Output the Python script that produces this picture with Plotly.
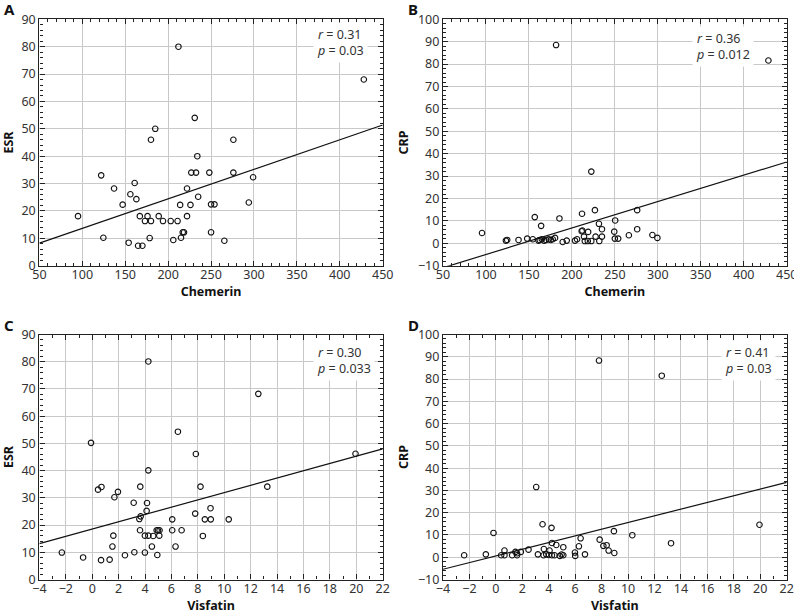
import plotly.graph_objects as go
import numpy as np

# ---------------- data ----------------
# Panel A: Chemerin vs ESR
a_x = [212, 428, 231, 185, 180, 276, 234, 122, 227, 232.5, 248, 276, 299, 161, 137, 222, 156, 163,
       235, 147, 214, 226, 250, 254, 294, 95, 167, 176, 189, 222, 173, 180, 194, 203, 211, 217, 218.5,
       250, 124.5, 178.5, 215, 154, 206, 265.5, 165, 170]
a_y = [80, 68, 54, 50, 46, 46, 40, 33, 34, 34, 34, 34, 32.3, 30.2, 28.2, 28.2, 26.1, 24.3,
       25.2, 22.3, 22.2, 22.2, 22.4, 22.4, 23.1, 18.1, 18.1, 18.1, 18.1, 18.1, 16.3, 16.3, 16.3, 16.3, 16.3, 12.2, 12.2,
       12.2, 10.2, 10.1, 10.2, 8.4, 9.4, 9.1, 7.3, 7.3]

# Panel B: Chemerin vs CRP
b_x = [181.6, 428.7, 222.6, 95.4, 123.2, 124.7, 137.9, 148, 154.5, 156.8, 161.1, 162.6, 165, 167.7, 170,
       173.1, 175.4, 177.7, 180.4, 164.2, 185.5, 189.3, 194, 203.6, 206, 211.4, 212.2, 211.8, 214.1, 215,
       218.5, 222.6, 218.9, 226.8, 227.6, 231.5, 231.9, 235, 235, 249.3, 250.4, 250, 253.9, 266.3, 276, 276,
       293.7, 299.5]
b_y = [88.5, 81.6, 32.0, 4.6, 1.2, 1.5, 1.5, 2.1, 1.8, 11.7, 1.2, 1.5, 1.8, 1.2, 1.5,
       1.8, 1.5, 1.8, 2.4, 7.8, 11.1, 0.6, 1.2, 1.2, 1.8, 5.4, 5.7, 13.2, 3.0, 1.0,
       1.0, 1.0, 5.1, 14.8, 3.0, 8.7, 1.0, 6.3, 3.0, 5.2, 10.2, 2.1, 2.1, 3.6, 14.8, 6.3,
       3.7, 2.4]

# Panel C: Visfatin vs ESR
c_x = [4.25, 12.58, 6.49, -0.09, 7.85, 19.94, 4.25, 0.44, 0.70, 3.64, 8.2, 13.26, 1.95, 1.68, 3.14, 4.15,
       4.12, 3.67, 3.57, 7.8, 8.96, 6.06, 8.53, 8.98, 10.34, 3.62, 4.88, 4.98, 5.1, 6.06, 6.77, 1.6,
       3.99, 4.25, 4.62, 5.08, 8.38, 1.53, 4.52, 6.31, -2.3, 3.19, 3.99, -0.69, 2.48, 4.93, 0.67, 1.32]
c_y = [80.1, 68.2, 54.3, 50.2, 46.1, 46.2, 40.1, 33.0, 34.0, 34.1, 34.1, 34.1, 32.2, 30.2, 28.2, 28.1,
       25.2, 23.2, 22.2, 24.2, 26.2, 22.1, 22.1, 22.1, 22.1, 18.1, 18.1, 18.1, 18.1, 18.1, 18.1, 16.1,
       16.1, 16.1, 16.0, 16.1, 16.0, 12.1, 12.1, 12.1, 9.9, 10.0, 9.9, 8.1, 8.9, 9.0, 7.1, 7.3]

# Panel D: Visfatin vs CRP
d_x = [7.8, 12.55, 3.05, 19.94, 3.53, 4.21, -0.18, 8.93, 10.32, 6.41, 7.85, 13.25, 4.24, 4.57, 8.13, 8.38,
       6.28, 5.1, 3.63, 8.53, 4.06, 0.65, 2.47, 1.48, 1.89, 1.6, 1.23, 1.6, 0.4, 0.65, -0.76, -2.4, 3.18,
       3.61, 3.81, 4.01, 4.24, 4.44, 4.84, 4.97, 5.1, 5.98, 6.0, 6.74, 8.96]
d_y = [88.3, 81.5, 31.5, 14.6, 14.8, 13.2, 10.9, 11.7, 9.9, 8.5, 7.9, 6.3, 6.4, 5.5, 5.1, 5.4,
       4.9, 4.5, 3.7, 3.0, 3.0, 3.0, 3.4, 2.4, 2.4, 1.8, 0.9, 0.9, 0.9, 0.9, 1.3, 0.9, 1.3,
       0.9, 1.3, 1.0, 0.9, 0.9, 0.6, 1.2, 0.9, 2.1, 0.6, 1.3, 1.9]

# regression lines (intercept, slope)
line_intercepts = [2.87, -16.8, 18.55, 0.6]
line_slopes = [0.1078, 0.118, 1.337, 1.5]

stats_r = ["0.31", "0.36", "0.30", "0.41"]
stats_p = ["0.03", "0.012", "0.033", "0.03"]
panel_letters = ["A", "B", "C", "D"]
x_titles = ["Chemerin", "Chemerin", "Visfatin", "Visfatin"]
y_titles = ["ESR", "CRP", "ESR", "CRP"]

# ---------------- layout geometry ----------------
W, H = 794, 615
xdoms = [[39.4 / W, 382.7 / W], [443 / W, 786.7 / W]]
ydoms = [[1 - 265.7 / H, 1 - 19.3 / H], [1 - 579.5 / H, 1 - 334.5 / H]]

xranges = [[50, 450], [50, 450], [-4, 22], [-4, 22]]
yranges = [[0, 90], [-10, 100], [0, 90], [-10, 100]]
xdticks = [50, 50, 2, 2]
xminor = [10, 10, 1, 1]
ydticks = [10, 10, 10, 10]
yminor = [2, 2, 2, 2]

panels = [(a_x, a_y), (b_x, b_y), (c_x, c_y), (d_x, d_y)]

fig = go.Figure()
font_family = "Noto Sans, Open Sans, DejaVu Sans, sans-serif"
axis_col = "#222222"
grid_col = "#c9c9c9"

for i, (px, py) in enumerate(panels):
    row, col = divmod(i, 2)
    xa = "x" if i == 0 else f"x{i+1}"
    ya = "y" if i == 0 else f"y{i+1}"
    xkey = "xaxis" if i == 0 else f"xaxis{i+1}"
    ykey = "yaxis" if i == 0 else f"yaxis{i+1}"

    # regression line
    lx = np.array(xranges[i], dtype=float)
    ly = line_intercepts[i] + line_slopes[i] * lx
    fig.add_trace(go.Scatter(x=lx, y=ly, mode="lines", xaxis=xa, yaxis=ya,
                             line=dict(color="#111111", width=1.2),
                             showlegend=False, hoverinfo="skip"))
    fig.add_trace(go.Scatter(x=px, y=py, mode="markers", xaxis=xa, yaxis=ya,
                             marker=dict(symbol="circle-open", size=5.5,
                                         color="#111111", line=dict(width=1.1, color="#111111")),
                             showlegend=False))

    fig.layout[xkey] = dict(
        domain=xdoms[col], anchor=ya, range=xranges[i], tick0=xranges[i][0], dtick=xdticks[i],
        automargin=False, ticklabeloverflow="allow", ticklabelstandoff=-3,
        showgrid=True, gridcolor=grid_col, gridwidth=1.3, zeroline=False,
        showline=True, linecolor=axis_col, linewidth=1.3, mirror="allticks",
        ticks="inside", ticklen=5, tickcolor=axis_col, tickwidth=1,
        minor=dict(dtick=xminor[i], ticks="inside", ticklen=3, tickcolor=axis_col, tickwidth=1, showgrid=False),
        tickfont=dict(family=font_family, size=12.5, color="#333333"),
        title=dict(text=f"<b>{x_titles[i]}</b>", font=dict(family=font_family, size=12.5, color="#111111"), standoff=4),
    )
    fig.layout[ykey] = dict(
        domain=ydoms[row], anchor=xa, range=yranges[i], tick0=0, dtick=ydticks[i],
        automargin=False,
        showgrid=True, gridcolor=grid_col, gridwidth=1.3, zeroline=False,
        showline=True, linecolor=axis_col, linewidth=1.3, mirror="allticks",
        ticks="inside", ticklen=5, tickcolor=axis_col, tickwidth=1,
        minor=dict(dtick=yminor[i], ticks="inside", ticklen=3, tickcolor=axis_col, tickwidth=1, showgrid=False),
        tickfont=dict(family=font_family, size=12.5, color="#333333"),
        title=dict(text=f"<b>{y_titles[i]}</b>", font=dict(family=font_family, size=12.5, color="#111111"), standoff=6),
    )

# stat annotations (paper coords from pixel positions)
stat_pos = [(340, 42), (723, 46), (344, 360), (748, 360)]
annotations = []
for i in range(4):
    sx, sy = stat_pos[i]
    annotations.append(dict(
        x=sx / W, y=1 - sy / H, xref="paper", yref="paper", xanchor="center", yanchor="middle",
        text=f"<i>r</i> = {stats_r[i]}<br><i>p</i> = {stats_p[i]}", align="left", showarrow=False,
        bgcolor="white", borderpad=3,
        font=dict(family=font_family, size=12.5, color="#333333")))

letter_pos = [(9, 9), (413, 9), (9, 325), (413, 325)]
for i in range(4):
    lx_, ly_ = letter_pos[i]
    annotations.append(dict(
        x=lx_ / W, y=1 - ly_ / H, xref="paper", yref="paper", xanchor="center", yanchor="middle",
        text=f"<b>{panel_letters[i]}</b>", showarrow=False,
        font=dict(family=font_family, size=15, color="#111111")))

fig.update_layout(
    width=W, height=H, margin=dict(l=0, r=0, t=0, b=0, autoexpand=False),
    paper_bgcolor="white", plot_bgcolor="white",
    annotations=annotations, showlegend=False,
)

fig.write_html("out.html", config={"displayModeBar": False},
               post_script="document.body.style.margin='0';document.body.style.overflow='hidden';")
